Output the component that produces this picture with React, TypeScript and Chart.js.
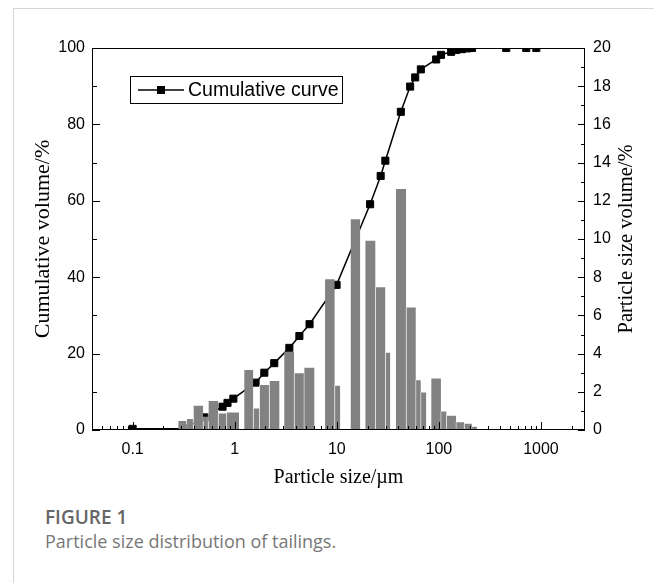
import React, { useEffect, useRef } from 'react';
import { Chart, registerables } from 'chart.js';

Chart.register(...registerables);

// Cumulative curve (particle size in µm, cumulative volume in %)
const cumulativeSize = [0.1, 0.32, 0.51, 0.76, 0.85, 0.97, 1.6, 1.95, 2.44, 3.43, 4.3, 5.41, 9.95, 21.2, 26.9, 29.9, 42.4, 52.3, 58.6, 66.6, 94.1, 104.8, 132, 148, 168, 190, 211, 457, 718, 900];
const cumulativeVolume = [0.3, 0.4, 3.3, 6.1, 7.1, 8.2, 12.4, 15.0, 17.5, 21.5, 24.6, 27.7, 38.0, 59.1, 66.5, 70.5, 83.3, 89.9, 92.3, 94.4, 97.0, 98.2, 99.0, 99.5, 99.7, 99.9, 100, 100, 100, 100];

// Histogram of particle size volume (bin edges in µm, volume in %)
const binLower = [0.28, 0.338, 0.393, 0.492, 0.551, 0.691, 0.835, 1.242, 1.522, 1.75, 2.185, 3.06, 3.83, 4.78, 7.68, 9.55, 13.7, 19.08, 23.97, 29.98, 37.98, 47.91, 59.5, 66.6, 84.3, 104.8, 118.9, 147.4, 177.4, 210.7];
const binUpper = [0.338, 0.393, 0.492, 0.551, 0.691, 0.835, 1.102, 1.522, 1.75, 2.185, 2.736, 3.83, 4.78, 6.02, 9.55, 10.77, 16.92, 23.97, 29.98, 33.3, 47.91, 59.5, 66.6, 75.0, 104.8, 118.9, 147.4, 177.4, 210.7, 236];
const binVolume = [0.47, 0.58, 1.27, 0.7, 1.52, 0.87, 0.92, 3.14, 1.13, 2.36, 2.57, 4.1, 2.97, 3.26, 7.89, 2.32, 11.03, 9.91, 7.47, 4.05, 12.62, 6.42, 2.6, 1.96, 2.7, 0.97, 0.74, 0.4, 0.33, 0.17];

// Axis ticks / labels
const X_MIN = 0.04;
const X_MAX = 2700;
const xTickValues = [0.1, 1, 10, 100, 1000];
const xTickLabels = ['0.1', '1', '10', '100', '1000'];
const leftTickLabels = ['0', '20', '40', '60', '80', '100'];
const rightTickLabels = ['0', '2', '4', '6', '8', '10', '12', '14', '16', '18', '20'];

const X_TITLE = 'Particle size/\u00b5m';
const LEFT_TITLE = 'Cumulative volume/%';
const RIGHT_TITLE = 'Particle size volume/%';
const LEGEND_LABEL = 'Cumulative curve';

const isDecade = (v: number) => xTickValues.some((t) => Math.abs(Math.log10(v) - Math.log10(t)) < 1e-6);

const decorPlugin = {
  id: 'decor',
  afterDraw(chart: any) {
    const { ctx, chartArea: a, scales } = chart;
    ctx.save();
    ctx.strokeStyle = '#000';
    ctx.lineWidth = 1;
    // frame
    ctx.strokeRect(a.left + 0.5, a.top + 0.5, a.right - a.left - 1, a.bottom - a.top - 1);
    ctx.beginPath();
    // x ticks (inward)
    scales.x.ticks.forEach((t: any) => {
      const px = Math.round(scales.x.getPixelForValue(t.value)) + 0.5;
      const len = isDecade(t.value) ? 8 : 4;
      ctx.moveTo(px, a.bottom);
      ctx.lineTo(px, a.bottom - len);
    });
    // left ticks
    scales.y.ticks.forEach((t: any) => {
      const py = Math.round(scales.y.getPixelForValue(t.value)) + 0.5;
      const len = t.value % 20 === 0 ? 8 : 5;
      ctx.moveTo(a.left, py);
      ctx.lineTo(a.left + len, py);
    });
    // right ticks
    scales.y2.ticks.forEach((t: any) => {
      const py = Math.round(scales.y2.getPixelForValue(t.value)) + 0.5;
      const len = t.value % 2 === 0 ? 7 : 4;
      ctx.moveTo(a.right, py);
      ctx.lineTo(a.right - len, py);
    });
    ctx.stroke();

    // right axis title (reads bottom to top)
    ctx.save();
    ctx.translate(627, (a.top + a.bottom) / 2);
    ctx.rotate(-Math.PI / 2);
    ctx.font = '20.5px "Liberation Serif"';
    ctx.fillStyle = '#000';
    ctx.textAlign = 'center';
    ctx.textBaseline = 'middle';
    ctx.fillText(RIGHT_TITLE, 0, 0);
    ctx.restore();

    // legend
    const bx = a.left + 38;
    const by = a.top + 28;
    const bw = 212;
    const bh = 27;
    ctx.fillStyle = '#fff';
    ctx.fillRect(bx, by, bw, bh);
    ctx.strokeStyle = '#000';
    ctx.lineWidth = 1;
    ctx.strokeRect(bx + 0.5, by + 0.5, bw, bh);
    const my = by + bh / 2 + 0.5;
    ctx.lineWidth = 1.5;
    ctx.beginPath();
    ctx.moveTo(bx + 8, my);
    ctx.lineTo(bx + 54, my);
    ctx.stroke();
    ctx.fillStyle = '#000';
    ctx.fillRect(bx + 31 - 4, my - 4, 8, 8);
    ctx.font = '19.5px "Liberation Sans"';
    ctx.textAlign = 'left';
    ctx.textBaseline = 'middle';
    const label = chart.data.datasets[1].label || LEGEND_LABEL;
    ctx.fillText(label, bx + 58, my + 1);
    ctx.restore();
  },
};

export default function App() {
  const ref = useRef<HTMLCanvasElement>(null);

  useEffect(() => {
    if (!ref.current) return;
    const histPoints: { x: number; y: number }[] = [];
    binLower.forEach((lo, i) => {
      const hi = binUpper[i];
      const h = binVolume[i];
      histPoints.push({ x: lo, y: 0 }, { x: lo, y: h }, { x: hi, y: h }, { x: hi, y: 0 });
    });
    const cumPoints = cumulativeSize.map((x, i) => ({ x, y: cumulativeVolume[i] }));

    const tickFont = { family: 'Liberation Sans', size: 16 };
    const titleFont = { family: 'Liberation Serif', size: 20 };

    const chart = new Chart(ref.current, {
      type: 'line',
      data: {
        datasets: [
          {
            label: 'Particle size volume',
            data: histPoints,
            yAxisID: 'y2',
            order: 0,
            fill: 'origin',
            backgroundColor: '#828282',
            borderColor: 'rgba(0,0,0,0)',
            borderWidth: 1,
            pointRadius: 0,
            tension: 0,
            segment: {
              borderColor: (c: any) => {
                const idx = c.p0DataIndex;
                if (idx % 4 === 0) {
                  const i = idx / 4;
                  if (i > 0 && Math.abs(binUpper[i - 1] - binLower[i]) < 1e-9) return 'rgba(255,255,255,0.45)';
                }
                return 'rgba(0,0,0,0)';
              },
            },
          } as any,
          {
            label: LEGEND_LABEL,
            data: cumPoints,
            yAxisID: 'y',
            order: 1,
            fill: false,
            borderColor: '#000',
            borderWidth: 1.5,
            tension: 0,
            pointStyle: 'rect',
            pointRadius: 5,
            pointBackgroundColor: '#000',
            pointBorderColor: '#000',
            pointBorderWidth: 1,
          },
        ],
      },
      options: {
        responsive: false,
        animation: false,
        events: [],
        layout: { padding: { top: 48, left: 0, right: 0, bottom: 0 } },
        plugins: { legend: { display: false }, tooltip: { enabled: false } },
        scales: {
          x: {
            type: 'logarithmic',
            min: X_MIN,
            max: X_MAX,
            grid: { display: false, drawTicks: false },
            border: { display: false },
            afterBuildTicks: (scale: any) => {
              const ticks: { value: number }[] = [];
              for (let e = -2; e <= 3; e++) {
                for (let m = 1; m <= 9; m++) {
                  const v = parseFloat((m * Math.pow(10, e)).toPrecision(6));
                  if (v >= X_MIN * 0.999 && v <= X_MAX * 1.001) ticks.push({ value: v });
                }
              }
              scale.ticks = ticks;
            },
            afterFit: (scale: any) => {
              scale.height = 70;
            },
            ticks: {
              autoSkip: false,
              maxRotation: 0,
              padding: 10,
              color: '#000',
              font: tickFont,
              callback: (v: any) => {
                const i = xTickValues.findIndex((t) => Math.abs(Math.log10(Number(v)) - Math.log10(t)) < 1e-6);
                return i >= 0 ? xTickLabels[i] : '';
              },
            },
            title: { display: true, text: X_TITLE, color: '#000', font: titleFont, padding: { top: 0, bottom: 10 } },
          },
          y: {
            type: 'linear',
            position: 'left',
            min: 0,
            max: 100,
            grid: { display: false, drawTicks: false },
            border: { display: false },
            afterBuildTicks: (scale: any) => {
              const ticks = [];
              for (let v = 0; v <= 100; v += 10) ticks.push({ value: v });
              scale.ticks = ticks;
            },
            afterFit: (scale: any) => {
              scale.width = 92;
            },
            ticks: {
              autoSkip: false,
              padding: 7,
              color: '#000',
              font: tickFont,
              callback: (v: any) => {
                const s = String(v);
                return leftTickLabels.includes(s) ? s : '';
              },
            },
            title: {
              display: true,
              text: LEFT_TITLE,
              color: '#000',
              font: { family: 'Liberation Serif', size: 22 },
              padding: { top: 30, bottom: 0 },
            },
          },
          y2: {
            type: 'linear',
            position: 'right',
            display: true,
            min: 0,
            max: 20,
            grid: { display: false, drawTicks: false },
            border: { display: false },
            afterBuildTicks: (scale: any) => {
              const ticks = [];
              for (let v = 0; v <= 20; v += 1) ticks.push({ value: v });
              scale.ticks = ticks;
            },
            afterFit: (scale: any) => {
              scale.width = 69;
            },
            ticks: {
              autoSkip: false,
              padding: 8,
              color: '#000',
              font: tickFont,
              callback: (v: any) => {
                const s = String(v);
                return rightTickLabels.includes(s) ? s : '';
              },
            },
          },
        },
      } as any,
      plugins: [decorPlugin],
    });
    return () => chart.destroy();
  }, []);

  return (
    <div>
      <div
        style={{
          position: 'fixed',
          left: 13,
          top: 8,
          width: 700,
          height: 700,
          borderTop: '1px solid #d6d6d6',
          borderLeft: '1px solid #d6d6d6',
          background: '#fff',
        }}
      />
      <canvas
        ref={ref}
        width={654}
        height={500}
        style={{ position: 'fixed', left: 0, top: 0, display: 'block' }}
      />
      <div
        style={{
          position: 'fixed',
          left: 45,
          top: 504,
          fontFamily: '"Open Sans", sans-serif',
          fontWeight: 600,
          fontSize: 19,
          color: '#666',
          lineHeight: '26px',
          whiteSpace: 'nowrap',
        }}
      >
        FIGURE 1
      </div>
      <div
        style={{
          position: 'fixed',
          left: 45,
          top: 528,
          fontFamily: '"Open Sans", sans-serif',
          fontSize: 18,
          color: '#777',
          lineHeight: '26px',
          whiteSpace: 'nowrap',
        }}
      >
        Particle size distribution of tailings.
      </div>
    </div>
  );
}
